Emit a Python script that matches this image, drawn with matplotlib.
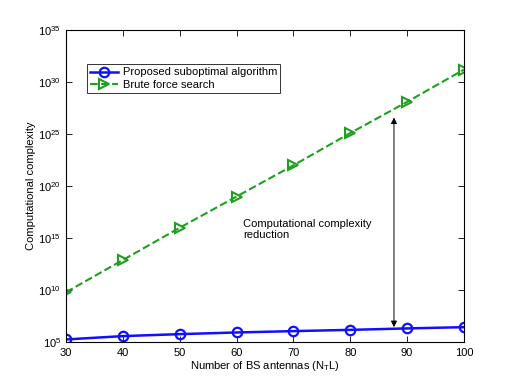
import numpy as np
import matplotlib
matplotlib.use("Agg")
import matplotlib.pyplot as plt

plt.rcParams['font.family'] = ['Liberation Sans', 'DejaVu Sans']
plt.rcParams['mathtext.fontset'] = 'custom'
plt.rcParams['mathtext.rm'] = 'Liberation Sans'
plt.rcParams['mathtext.it'] = 'Liberation Sans:italic'
plt.rcParams['mathtext.bf'] = 'Liberation Sans:bold'

# data (log10 of complexity)
antennas = [30, 40, 50, 60, 70, 80, 90, 100]
proposed_log = [5.26, 5.58, 5.77, 5.93, 6.06, 6.18, 6.32, 6.44]
brute_log = [9.8, 12.9, 16.0, 19.0, 22.0, 25.1, 28.1, 31.2]

proposed = [10.0 ** v for v in proposed_log]
brute = [10.0 ** v for v in brute_log]

fig = plt.figure(figsize=(5.12, 3.84), dpi=100)
ax = fig.add_axes([0.129, 0.109, 0.777, 0.8125])

ax.plot(antennas, proposed, '-o', color='#1010ff', lw=1.8, ms=6.8,
        mfc='none', mew=1.6, label='Proposed suboptimal algorithm')
ax.plot(antennas, brute, '-->', color='#1ea01e', lw=1.5, ms=6.8,
        mfc='none', mew=1.5, label='Brute force search')

ax.set_yscale('log')
ax.set_xlim(30, 100)
ax.set_ylim(1e5, 1e35)
ax.set_xticks(range(30, 101, 10))
ax.set_yticks([10.0 ** k for k in range(5, 36, 5)])
ax.minorticks_off()
ax.tick_params(direction='in', top=True, right=True, labelsize=8, length=4, width=0.6)
ax.tick_params(axis='x', pad=4)
for s in ax.spines.values():
    s.set_linewidth(0.8)

ax.set_xlabel('Number of BS antennas (N$_\\mathrm{T}$L)', fontsize=8, labelpad=1)
ax.set_ylabel('Computational complexity', fontsize=8, labelpad=2)

ax.annotate('', xy=(87.7, 10.0 ** 26.6), xytext=(87.7, 10.0 ** 6.44),
            arrowprops=dict(arrowstyle='<|-|>', color='black', lw=0.7,
                            mutation_scale=9, shrinkA=0, shrinkB=0))
ax.text(61.1, 10.0 ** 15.85, 'Computational complexity\nreduction',
        fontsize=8, va='center', ha='left')

leg = ax.legend(loc='upper left', bbox_to_anchor=(0.053, 0.891), fontsize=8,
                frameon=True, fancybox=False, edgecolor='black',
                handlelength=2.5, borderpad=0.3, labelspacing=0.2,
                handletextpad=0.4, borderaxespad=0)
leg.get_frame().set_linewidth(0.7)

fig.savefig('out.png', dpi=100)
